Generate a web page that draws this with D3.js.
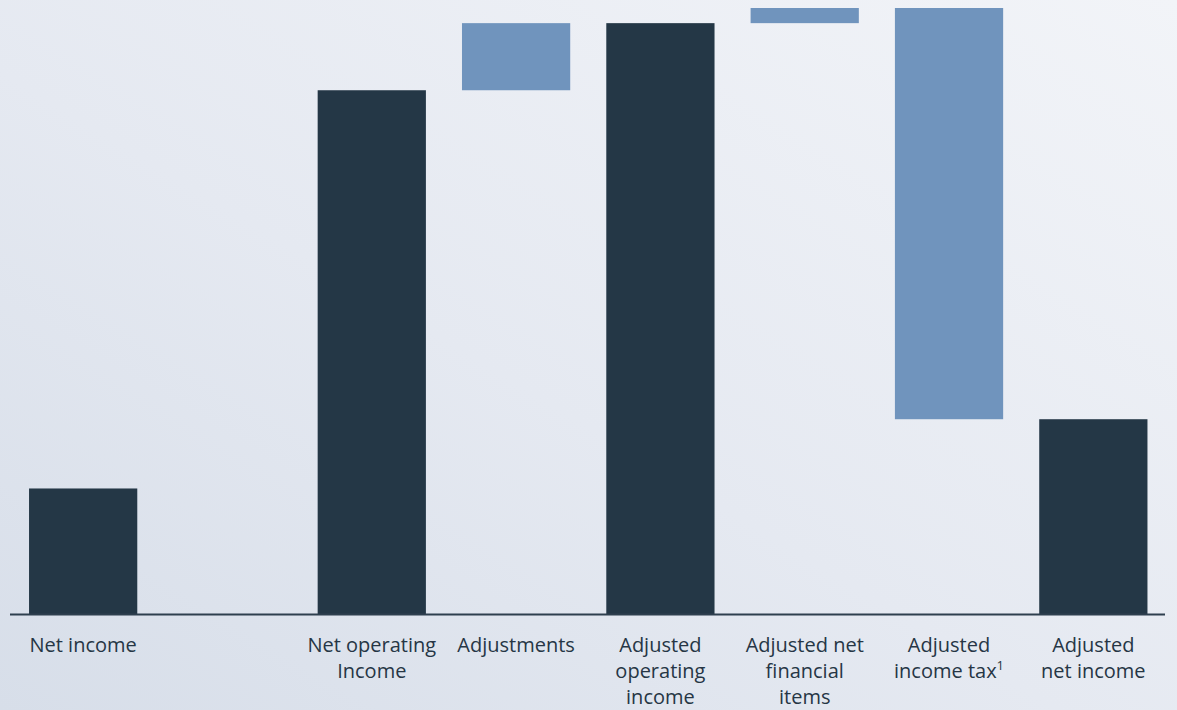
<!DOCTYPE html>
<html>
<head>
<meta charset="utf-8">
<script src="https://cdn.jsdelivr.net/npm/d3@7"></script>
<style>
  html, body { margin: 0; padding: 0; }
  body { width: 1177px; height: 710px; overflow: hidden; }
  svg { display: block; font-family: "Open Sans", "Noto Sans", sans-serif; }
</style>
</head>
<body>
<div id="wrapper"></div>
<script>
// chart data: "total" bars start at zero, "delta" bars float on the running sum
const categories = ["Net income", "", "Net operating Income", "Adjustments",
  "Adjusted operating income", "Adjusted net financial items",
  "Adjusted income tax", "Adjusted net income"];
const labelLines = [
  ["Net income"],
  [],
  ["Net operating", "Income"],
  ["Adjustments"],
  ["Adjusted", "operating", "income"],
  ["Adjusted net", "financial", "items"],
  ["Adjusted", "income tax"],
  ["Adjusted", "net income"]
];
const values = [2.9, null, 12.1, 1.55, 13.65, 0.35, -9.5, 4.5];
const kinds = ["total", "empty", "total", "delta", "total", "delta", "delta", "total"];
const footnoteIndex = 6;

function drawWaterfall() {
  const width = 1177;
  const height = 710;
  const baseline = 614;

  const svg = d3.select("#wrapper")
    .append("svg")
    .attr("width", width)
    .attr("height", height);

  // background gradient
  const defs = svg.append("defs");
  const grad = defs.append("linearGradient")
    .attr("id", "bg")
    .attr("x1", "100%").attr("y1", "0%")
    .attr("x2", "0%").attr("y2", "100%");
  grad.append("stop").attr("offset", "0%").attr("stop-color", "#f2f4f8");
  grad.append("stop").attr("offset", "55%").attr("stop-color", "#e5e9f1");
  grad.append("stop").attr("offset", "100%").attr("stop-color", "#d7dee9");
  svg.append("rect").attr("width", width).attr("height", height).attr("fill", "url(#bg)");

  // scales
  const x = d3.scaleBand()
    .domain(d3.range(categories.length))
    .range([11, 1165.5])
    .paddingInner(0.25)
    .paddingOuter(0.125);

  const y = d3.scaleLinear()
    .domain([0, 14])
    .range([baseline, 8]);

  // running sum for floating bars
  let running = 0;
  const bars = [];
  values.forEach((v, i) => {
    if (kinds[i] === "empty") return;
    if (kinds[i] === "total") {
      running = v;
      bars.push({ i, y0: 0, y1: v, kind: "total" });
    } else {
      const start = running;
      running = running + v;
      bars.push({ i, y0: start, y1: running, kind: "delta" });
    }
  });

  svg.selectAll(".bar")
    .data(bars)
    .enter()
    .append("rect")
    .attr("class", "bar")
    .attr("x", d => x(d.i))
    .attr("width", x.bandwidth())
    .attr("y", d => y(Math.max(d.y0, d.y1)))
    .attr("height", d => Math.abs(y(d.y0) - y(d.y1)))
    .attr("fill", d => d.kind === "total" ? "#243746" : "#7094bd");

  // axis line
  svg.append("line")
    .attr("x1", 10).attr("x2", 1165)
    .attr("y1", baseline + 0.5).attr("y2", baseline + 0.5)
    .attr("stroke", "#2e3f4e")
    .attr("stroke-width", 2);

  // category labels
  const labels = svg.selectAll(".label")
    .data(labelLines)
    .enter()
    .append("text")
    .attr("class", "label")
    .attr("text-anchor", "middle")
    .attr("font-size", 20)
    .attr("fill", "#263645");

  labels.each(function(lines, i) {
    const t = d3.select(this);
    const cx = x(i) + x.bandwidth() / 2;
    lines.forEach((line, k) => {
      t.append("tspan")
        .attr("x", cx)
        .attr("y", 652 + k * 26)
        .text(line);
      if (i === footnoteIndex && k === lines.length - 1) {
        t.append("tspan")
          .attr("font-size", 13)
          .attr("dy", -8)
          .text("1");
      }
    });
  });
}

drawWaterfall();
</script>
</body>
</html>
